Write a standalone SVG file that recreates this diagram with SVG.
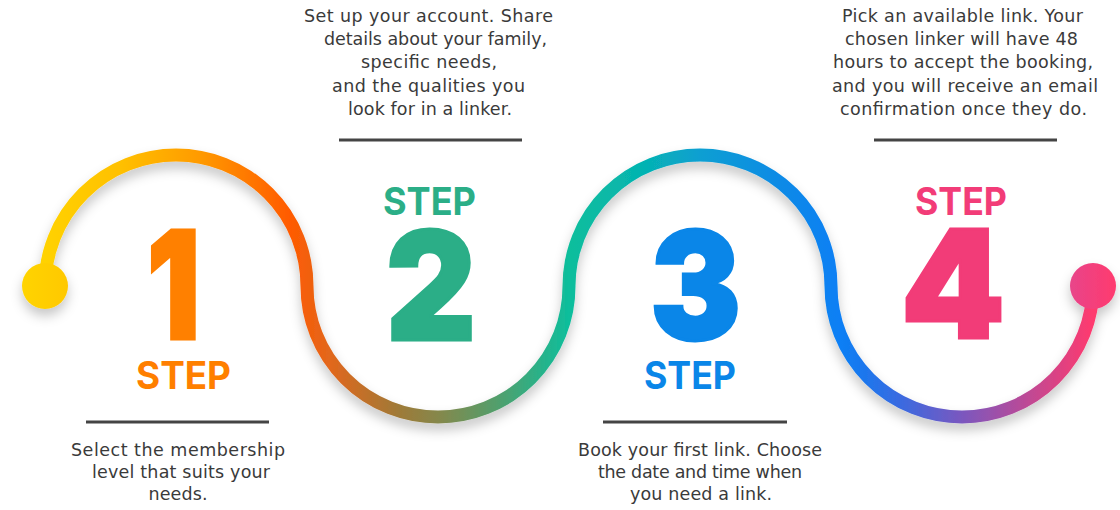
<svg xmlns="http://www.w3.org/2000/svg" width="1120" height="510" viewBox="0 0 1120 510">
<style>
.desc{font-family:"DejaVu Sans","Liberation Sans",sans-serif;font-size:17.5px;fill:#3a3a3a;text-anchor:middle}
.num{font-family:Inter,"Lato","Liberation Sans",sans-serif;font-weight:900;font-size:150px;text-anchor:start;stroke-width:3;stroke-linejoin:miter}
.step{font-family:Inter,"Open Sans","Liberation Sans",sans-serif;font-weight:700;font-size:38px;text-anchor:start}
.rule{stroke:#444;stroke-width:3}
</style>
<defs>
<linearGradient id="wave" gradientUnits="userSpaceOnUse" x1="22" y1="0" x2="1116" y2="0">
<stop offset="0.021" stop-color="#FFD200"/>
<stop offset="0.09" stop-color="#FFC000"/>
<stop offset="0.163" stop-color="#FF9A00"/>
<stop offset="0.245" stop-color="#FF5A00"/>
<stop offset="0.281" stop-color="#E2671C"/>
<stop offset="0.345" stop-color="#9E7A38"/>
<stop offset="0.382" stop-color="#84884C"/>
<stop offset="0.437" stop-color="#4FA06E"/>
<stop offset="0.5" stop-color="#0EBE9C"/>
<stop offset="0.565" stop-color="#05B4B0"/>
<stop offset="0.62" stop-color="#0A9FD2"/>
<stop offset="0.693" stop-color="#0A8AE6"/>
<stop offset="0.748" stop-color="#0A7FF5"/>
<stop offset="0.803" stop-color="#3A6AE0"/>
<stop offset="0.857" stop-color="#7858C0"/>
<stop offset="0.912" stop-color="#B64B9A"/>
<stop offset="0.979" stop-color="#FF3A6E"/>
</linearGradient>
<linearGradient id="dotL" x1="0" y1="0" x2="1" y2="0">
<stop offset="0" stop-color="#FFD400"/><stop offset="1" stop-color="#FFC800"/>
</linearGradient>
<linearGradient id="dotR" x1="0" y1="0" x2="1" y2="0">
<stop offset="0" stop-color="#E8458A"/><stop offset="1" stop-color="#FF3A6E"/>
</linearGradient>
<filter id="shadow" x="-10%" y="-20%" width="120%" height="150%">
<feGaussianBlur in="SourceAlpha" stdDeviation="6"/>
<feOffset dx="0" dy="7" result="b"/>
<feFlood flood-color="#000" flood-opacity="0.22"/>
<feComposite in2="b" operator="in" result="s"/>
<feMerge><feMergeNode in="s"/><feMergeNode in="SourceGraphic"/></feMerge>
</filter>
</defs>
<rect width="1120" height="510" fill="#fff"/>
<g id="connectors" filter="url(#shadow)">
<path d="M45,286 A131,131 0 0 1 307,286 A131,131 0 0 0 569,286 A131,131 0 0 1 831,286 A131,131 0 0 0 1093,286" fill="none" stroke="url(#wave)" stroke-width="13"/>
<circle cx="45" cy="286" r="23" fill="url(#dotL)"/>
<circle cx="1093" cy="286" r="23" fill="url(#dotR)"/>
</g>
<g id="step1">
<text class="num" x="147" y="339" fill="#FF8000" stroke="#FF8000" textLength="53" lengthAdjust="spacingAndGlyphs">1</text>
<text class="step" x="136" y="389" fill="#FF7F00" textLength="95" lengthAdjust="spacingAndGlyphs">STEP</text>
<line class="rule" x1="86" y1="422" x2="269" y2="422"/>
<text class="desc" x="178" y="456" textLength="214">Select the membership</text>
<text class="desc" x="181" y="478" textLength="178">level that suits your</text>
<text class="desc" x="178" y="500" textLength="59">needs.</text>
</g>
<g id="step2">
<text class="desc" x="428.5" y="22" textLength="249">Set up your account. Share</text>
<text class="desc" x="435.5" y="45" textLength="223">details about your family,</text>
<text class="desc" x="429" y="68" textLength="136">specific needs,</text>
<text class="desc" x="428.5" y="92" textLength="193">and the qualities you</text>
<text class="desc" x="430" y="115" textLength="164">look for in a linker.</text>
<line class="rule" x1="339" y1="140" x2="522" y2="140"/>
<text class="step" x="383" y="215" fill="#2BAE87" textLength="93" lengthAdjust="spacingAndGlyphs">STEP</text>
<text class="num" x="386" y="340" fill="#2BAE87" stroke="#2BAE87" textLength="90" lengthAdjust="spacingAndGlyphs">2</text>
</g>
<g id="step3">
<text class="num" x="650" y="340" fill="#0A86E8" stroke="#0A86E8" textLength="91" lengthAdjust="spacingAndGlyphs">3</text>
<text class="step" x="644" y="389" fill="#0A86E8" textLength="92" lengthAdjust="spacingAndGlyphs">STEP</text>
<line class="rule" x1="603" y1="422" x2="787" y2="422"/>
<text class="desc" x="700" y="456" textLength="244">Book your first link. Choose</text>
<text class="desc" x="700" y="478" textLength="204">the date and time when</text>
<text class="desc" x="701" y="500" textLength="142">you need a link.</text>
</g>
<g id="step4">
<text class="desc" x="962.5" y="22" textLength="241">Pick an available link. Your</text>
<text class="desc" x="961.5" y="45" textLength="233">chosen linker will have 48</text>
<text class="desc" x="963" y="68" textLength="260">hours to accept the booking,</text>
<text class="desc" x="965" y="92" textLength="266">and you will receive an email</text>
<text class="desc" x="963.5" y="115" textLength="247">confirmation once they do.</text>
<line class="rule" x1="874" y1="140" x2="1057" y2="140"/>
<text class="step" x="915" y="215" fill="#F23C78" textLength="92" lengthAdjust="spacingAndGlyphs">STEP</text>
<text class="num" x="901" y="338" fill="#F23C78" stroke="#F23C78" textLength="104" lengthAdjust="spacingAndGlyphs">4</text>
</g>
</svg>
